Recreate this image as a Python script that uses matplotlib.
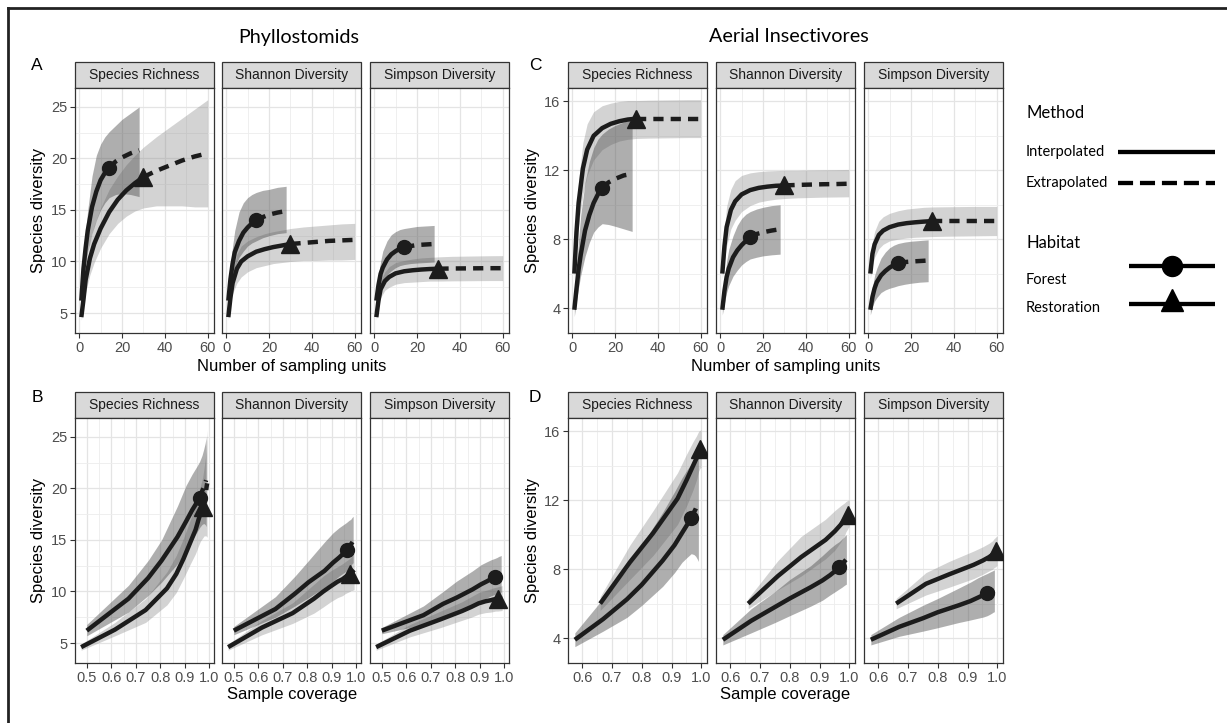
import matplotlib
matplotlib.use('Agg')
import matplotlib.pyplot as plt
from matplotlib.patches import Rectangle

plt.rcParams['font.family'] = ['Liberation Sans', 'DejaVu Sans']

# sampling units (size-based grid) and observed sample sizes
n_forest = [1, 2, 3, 4, 6, 8, 10, 12, 14, 17, 20, 24, 28]
n_resto = [1, 2, 3, 5, 7, 10, 14, 18, 22, 26, 30, 36, 42, 48, 54, 60]
obs_forest = 14
obs_resto = 30

# sample coverage for each sampling-unit value
cov_phyl_forest = [0.50, 0.67, 0.75, 0.805, 0.87, 0.905, 0.93, 0.948, 0.96, 0.97, 0.977, 0.983, 0.987]
cov_phyl_resto = [0.477, 0.615, 0.74, 0.827, 0.865, 0.895, 0.923, 0.944, 0.955, 0.964, 0.973, 0.979, 0.984, 0.987, 0.989, 0.991]
cov_aer_forest = [0.575, 0.67, 0.75, 0.80, 0.87, 0.91, 0.935, 0.953, 0.966, 0.975, 0.981, 0.986, 0.99]
cov_aer_resto = [0.66, 0.76, 0.838, 0.92, 0.951, 0.972, 0.984, 0.988, 0.991, 0.994, 0.995, 0.996, 0.997, 0.998, 0.9985, 0.999]

# Phyllostomids - species richness
phyl_sr_forest = [6.2, 9.3, 11.3, 13.0, 15.3, 16.8, 17.9, 18.6, 19.1, 19.7, 20.1, 20.5, 20.8]
phyl_sr_forest_lo = [5.7, 8.0, 9.6, 10.9, 12.7, 14.0, 15.0, 15.7, 16.2, 16.5, 16.6, 16.5, 16.3]
phyl_sr_forest_hi = [6.8, 10.6, 13.0, 15.0, 18.3, 20.3, 21.4, 22.1, 22.6, 23.2, 23.8, 24.4, 25.0]
phyl_sr_resto = [4.6, 6.3, 8.2, 10.3, 11.7, 13.2, 14.8, 16.0, 16.9, 17.6, 18.2, 18.8, 19.3, 19.8, 20.2, 20.5]
phyl_sr_resto_lo = [4.3, 5.7, 7.0, 8.7, 9.9, 11.3, 12.7, 13.7, 14.4, 14.9, 15.2, 15.4, 15.4, 15.4, 15.3, 15.3]
phyl_sr_resto_hi = [4.9, 7.0, 9.3, 11.9, 13.5, 15.2, 17.0, 18.3, 19.4, 20.3, 21.1, 22.1, 23.0, 23.9, 24.8, 25.7]

# Phyllostomids - Shannon
phyl_sh_forest = [6.2, 8.3, 9.8, 10.9, 12.0, 12.8, 13.3, 13.7, 14.0, 14.3, 14.55, 14.75, 14.9]
phyl_sh_forest_lo = [5.8, 7.5, 8.6, 9.4, 10.4, 11.0, 11.5, 11.8, 12.0, 12.3, 12.5, 12.7, 12.8]
phyl_sh_forest_hi = [6.6, 9.5, 11.5, 13.0, 14.8, 15.7, 16.2, 16.5, 16.7, 16.9, 17.0, 17.2, 17.3]
phyl_sh_resto = [4.6, 6.5, 7.9, 9.3, 10.0, 10.5, 10.95, 11.2, 11.4, 11.55, 11.7, 11.8, 11.9, 12.0, 12.05, 12.1]
phyl_sh_resto_lo = [4.3, 5.8, 6.9, 7.9, 8.5, 9.0, 9.4, 9.6, 9.8, 9.9, 10.0, 10.1, 10.1, 10.15, 10.15, 10.2]
phyl_sh_resto_hi = [4.9, 7.2, 8.9, 10.7, 11.5, 12.0, 12.4, 12.7, 12.9, 13.05, 13.2, 13.35, 13.45, 13.55, 13.65, 13.7]

# Phyllostomids - Simpson
phyl_si_forest = [6.2, 7.7, 8.8, 9.4, 10.2, 10.7, 11.0, 11.25, 11.4, 11.5, 11.6, 11.65, 11.7]
phyl_si_forest_lo = [5.9, 6.8, 7.5, 8.0, 8.7, 9.1, 9.4, 9.6, 9.7, 9.8, 9.85, 9.9, 9.95]
phyl_si_forest_hi = [6.5, 8.6, 10.0, 11.0, 12.0, 12.6, 12.9, 13.1, 13.2, 13.3, 13.4, 13.45, 13.5]
phyl_si_resto = [4.6, 6.2, 7.3, 8.1, 8.5, 8.85, 9.05, 9.15, 9.22, 9.27, 9.3, 9.32, 9.33, 9.34, 9.35, 9.35]
phyl_si_resto_lo = [4.3, 5.6, 6.5, 7.2, 7.5, 7.8, 7.95, 8.0, 8.05, 8.1, 8.1, 8.12, 8.13, 8.14, 8.15, 8.15]
phyl_si_resto_hi = [4.9, 6.8, 8.1, 9.0, 9.5, 9.9, 10.1, 10.25, 10.35, 10.4, 10.45, 10.5, 10.52, 10.54, 10.56, 10.57]

# Aerial insectivores - species richness
aer_sr_forest = [3.9, 5.1, 6.25, 7.1, 8.5, 9.4, 10.1, 10.6, 11.0, 11.3, 11.5, 11.7, 11.8]
aer_sr_forest_lo = [3.5, 4.4, 5.2, 5.9, 7.0, 7.8, 8.4, 8.7, 8.9, 8.85, 8.75, 8.6, 8.45]
aer_sr_forest_hi = [4.3, 6.3, 8.0, 9.4, 11.3, 12.5, 13.3, 13.8, 14.1, 14.4, 14.6, 14.8, 15.0]
aer_sr_resto = [6.0, 8.4, 10.1, 12.1, 13.2, 14.0, 14.45, 14.7, 14.85, 14.95, 15.0, 15.0, 15.0, 15.0, 15.0, 15.0]
aer_sr_resto_lo = [5.6, 7.4, 8.8, 10.6, 11.7, 12.6, 13.2, 13.5, 13.7, 13.8, 13.85, 13.87, 13.88, 13.89, 13.9, 13.9]
aer_sr_resto_hi = [6.4, 9.4, 11.4, 13.6, 14.7, 15.4, 15.75, 15.9, 16.0, 16.05, 16.05, 16.07, 16.08, 16.09, 16.1, 16.1]

# Aerial insectivores - Shannon
aer_sh_forest = [3.9, 5.0, 5.8, 6.3, 6.95, 7.35, 7.65, 7.9, 8.1, 8.3, 8.4, 8.5, 8.58]
aer_sh_forest_lo = [3.6, 4.3, 4.9, 5.3, 5.85, 6.2, 6.5, 6.7, 6.85, 6.95, 7.03, 7.09, 7.13]
aer_sh_forest_hi = [4.2, 5.7, 6.7, 7.4, 8.2, 8.8, 9.2, 9.45, 9.6, 9.75, 9.85, 9.95, 10.0]
aer_sh_resto = [6.0, 7.6, 8.7, 9.7, 10.2, 10.6, 10.85, 10.98, 11.05, 11.1, 11.12, 11.15, 11.17, 11.19, 11.2, 11.22]
aer_sh_resto_lo = [5.7, 6.8, 7.6, 8.6, 9.1, 9.6, 9.95, 10.15, 10.25, 10.32, 10.36, 10.4, 10.42, 10.44, 10.45, 10.46]
aer_sh_resto_hi = [6.3, 8.5, 9.9, 10.9, 11.4, 11.7, 11.85, 11.92, 11.96, 11.98, 12.0, 12.0, 12.02, 12.03, 12.04, 12.05]

# Aerial insectivores - Simpson
aer_si_forest = [3.9, 4.65, 5.15, 5.5, 5.9, 6.15, 6.35, 6.5, 6.6, 6.67, 6.7, 6.73, 6.76]
aer_si_forest_lo = [3.6, 4.1, 4.4, 4.6, 4.9, 5.05, 5.15, 5.22, 5.3, 5.38, 5.44, 5.5, 5.53]
aer_si_forest_hi = [4.2, 5.2, 5.9, 6.3, 6.9, 7.25, 7.5, 7.65, 7.75, 7.83, 7.88, 7.92, 7.96]
aer_si_resto = [6.0, 7.15, 7.7, 8.25, 8.5, 8.7, 8.85, 8.93, 8.98, 9.02, 9.05, 9.05, 9.05, 9.05, 9.05, 9.05]
aer_si_resto_lo = [5.7, 6.5, 6.95, 7.45, 7.7, 7.9, 8.0, 8.07, 8.11, 8.13, 8.15, 8.17, 8.18, 8.19, 8.2, 8.21]
aer_si_resto_hi = [6.3, 7.8, 8.45, 9.05, 9.3, 9.5, 9.65, 9.75, 9.8, 9.85, 9.87, 9.88, 9.89, 9.9, 9.9, 9.9]

facet_names = ['Species Richness', 'Shannon Diversity', 'Simpson Diversity']
size_ticks = [0, 20, 40, 60]
size_minor = [10, 30, 50]
cov_ticks_b = [0.5, 0.6, 0.7, 0.8, 0.9, 1.0]
cov_minor_b = [0.55, 0.65, 0.75, 0.85, 0.95]
cov_ticks_d = [0.6, 0.7, 0.8, 0.9, 1.0]
cov_minor_d = [0.65, 0.75, 0.85, 0.95]
phyl_yticks = [5, 10, 15, 20, 25]
phyl_yminor = [7.5, 12.5, 17.5, 22.5]
aer_yticks = [4, 8, 12, 16]
aer_yminor = [6, 10, 14]

LINE = '#1c1c1c'
W, H = 1227, 723
fig = plt.figure(figsize=(W / 100, H / 100), dpi=100)

# pixel-space overlay for texts, strips, legend and frame
ov = fig.add_axes([0, 0, 1, 1])
ov.set_xlim(0, W)
ov.set_ylim(H, 0)
ov.axis('off')

i_f = n_forest.index(obs_forest)
i_r = n_resto.index(obs_resto)


def draw_facet(left, top, name, xlim, ylim, xt, xm, yt, ym, show_y, xfmt):
    ax = fig.add_axes([left / W, 1 - (top + 245) / H, 139 / W, 245 / H])
    ov.add_patch(Rectangle((left, top - 26), 139, 26, facecolor='#d9d9d9',
                           edgecolor='#333333', lw=0.9))
    ov.text(left + 69.5, top - 13, name, ha='center', va='center',
            fontsize=10, color='#1a1a1a')
    ax.set_xlim(xlim)
    ax.set_ylim(ylim)
    ax.set_xticks(xt)
    ax.set_xticks(xm, minor=True)
    ax.set_yticks(yt)
    ax.set_yticks(ym, minor=True)
    ax.set_xticklabels([xfmt.format(v) for v in xt])
    ax.grid(which='major', color='#e4e4e4', lw=0.9)
    ax.grid(which='minor', color='#ededed', lw=0.6)
    ax.set_axisbelow(True)
    ax.tick_params(which='minor', length=0)
    ax.tick_params(which='major', length=3.5, width=0.8, color='#333333',
                   labelsize=10.5, labelcolor='#4d4d4d', pad=2)
    if not show_y:
        ax.tick_params(axis='y', which='major', length=0, labelleft=False)
    for s in ax.spines.values():
        s.set_color('#333333')
        s.set_linewidth(0.9)
    return ax


def draw_curves(ax, xf, yf, lof, hif, xr, yr, lor, hir):
    ax.fill_between(xr, lor, hir, color='#8c8c8c', alpha=0.38, lw=0, zorder=2)
    ax.fill_between(xf, lof, hif, color='#4d4d4d', alpha=0.45, lw=0, zorder=2)
    for x, y, k, mk, ms in [(xf, yf, i_f, 'o', 10), (xr, yr, i_r, '^', 13.5)]:
        ax.plot(x[:k + 1], y[:k + 1], color=LINE, lw=3.2, solid_capstyle='butt', zorder=3)
        ax.plot(x[k:], y[k:], color=LINE, lw=3.2, dashes=(2.3, 1.6),
                dash_capstyle='butt', zorder=3)
        ax.plot([x[k]], [y[k]], marker=mk, ms=ms, color=LINE, mec=LINE, zorder=4)


phyl_sets = [
    (phyl_sr_forest, phyl_sr_forest_lo, phyl_sr_forest_hi, phyl_sr_resto, phyl_sr_resto_lo, phyl_sr_resto_hi),
    (phyl_sh_forest, phyl_sh_forest_lo, phyl_sh_forest_hi, phyl_sh_resto, phyl_sh_resto_lo, phyl_sh_resto_hi),
    (phyl_si_forest, phyl_si_forest_lo, phyl_si_forest_hi, phyl_si_resto, phyl_si_resto_lo, phyl_si_resto_hi),
]
aer_sets = [
    (aer_sr_forest, aer_sr_forest_lo, aer_sr_forest_hi, aer_sr_resto, aer_sr_resto_lo, aer_sr_resto_hi),
    (aer_sh_forest, aer_sh_forest_lo, aer_sh_forest_hi, aer_sh_resto, aer_sh_resto_lo, aer_sh_resto_hi),
    (aer_si_forest, aer_si_forest_lo, aer_si_forest_hi, aer_si_resto, aer_si_resto_lo, aer_si_resto_hi),
]

phyl_lefts = [75, 222, 370]
aer_lefts = [568, 716, 864]

for j in range(3):
    yf, lof, hif, yr, lor, hir = phyl_sets[j]
    # A: size-based
    ax = draw_facet(phyl_lefts[j], 88, facet_names[j], (-1.95, 62.95), (3.06, 26.84),
                    size_ticks, size_minor, phyl_yticks, phyl_yminor, j == 0, '{:d}')
    draw_curves(ax, n_forest, yf, lof, hif, n_resto, yr, lor, hir)
    # B: coverage-based
    ax = draw_facet(phyl_lefts[j], 418, facet_names[j], (0.452, 1.019), (3.06, 26.84),
                    cov_ticks_b, cov_minor_b, phyl_yticks, phyl_yminor, j == 0, '{:.1f}')
    draw_curves(ax, cov_phyl_forest, yf, lof, hif, cov_phyl_resto, yr, lor, hir)

    yf, lof, hif, yr, lor, hir = aer_sets[j]
    # C: size-based
    ax = draw_facet(aer_lefts[j], 88, facet_names[j], (-1.95, 62.95), (2.55, 16.78),
                    size_ticks, size_minor, aer_yticks, aer_yminor, j == 0, '{:d}')
    draw_curves(ax, n_forest, yf, lof, hif, n_resto, yr, lor, hir)
    # D: coverage-based
    ax = draw_facet(aer_lefts[j], 418, facet_names[j], (0.552, 1.019), (2.55, 16.78),
                    cov_ticks_d, cov_minor_d, aer_yticks, aer_yminor, j == 0, '{:.1f}')
    draw_curves(ax, cov_aer_forest, yf, lof, hif, cov_aer_resto, yr, lor, hir)

# titles and labels
ov.text(299, 38, 'Phyllostomids', ha='center', va='center', fontsize=14.2, family='Lato')
ov.text(789, 37, 'Aerial Insectivores', ha='center', va='center', fontsize=14.2, family='Lato')
for lbl, x, y in [('A', 37, 66), ('C', 535, 66), ('B', 37, 397), ('D', 535, 397)]:
    ov.text(x, y, lbl, ha='center', va='center', fontsize=12.5)
for x in [292, 785.5]:
    ov.text(x, 367, 'Number of sampling units', ha='center', va='center', fontsize=12)
    ov.text(x, 695, 'Sample coverage', ha='center', va='center', fontsize=12)
for x in [38, 533]:
    for y in [210, 540]:
        ov.text(x, y, 'Species diversity', ha='center', va='center', fontsize=12, rotation=90)

# legend
ov.text(1027, 113, 'Method', ha='left', va='center', fontsize=12, family='Lato')
ov.text(1026, 152, 'Interpolated', ha='left', va='center', fontsize=10.5, family='Lato')
ov.text(1026, 183, 'Extrapolated', ha='left', va='center', fontsize=10.5, family='Lato')
ov.plot([1118, 1215], [152, 152], color='black', lw=3.1, solid_capstyle='butt')
ov.plot([1118, 1215], [183, 183], color='black', lw=3.1, dashes=(3.5, 1.6), dash_capstyle='butt')
ov.text(1026, 243, 'Habitat', ha='left', va='center', fontsize=12, family='Lato')
ov.text(1026, 280, 'Forest', ha='left', va='center', fontsize=10.5, family='Lato')
ov.text(1026, 308, 'Restoration', ha='left', va='center', fontsize=10.5, family='Lato')
ov.plot([1129, 1215], [266, 266], color='black', lw=3.1, solid_capstyle='butt')
ov.plot([1172], [266], marker='o', ms=14.4, color='black')
ov.plot([1129, 1215], [304, 304], color='black', lw=3.1, solid_capstyle='butt')
ov.plot([1172], [300], marker='^', ms=16, color='black')

# outer frame (top and left edges)
ov.plot([8, W], [8, 8], color='#222222', lw=2, solid_capstyle='projecting')
ov.plot([8, 8], [8, H], color='#222222', lw=2, solid_capstyle='projecting')

fig.savefig('out.png', dpi=100)
